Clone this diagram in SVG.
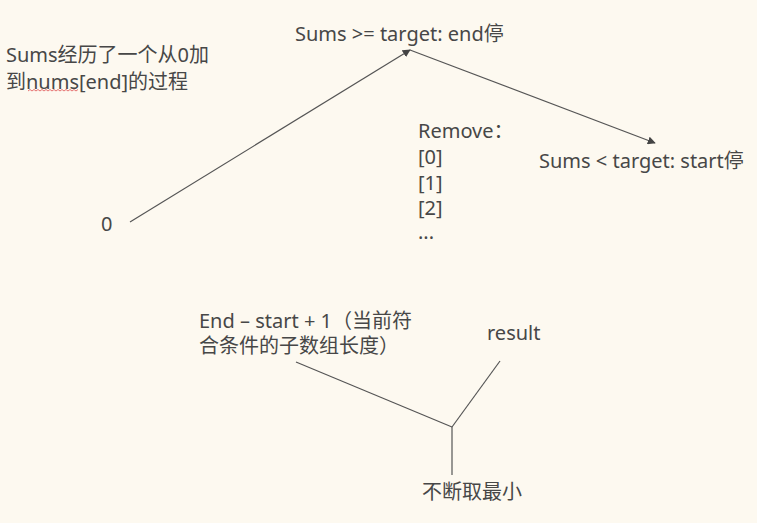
<svg xmlns="http://www.w3.org/2000/svg" width="757" height="523" viewBox="0 0 757 523">
<style>
text{font-family:"Noto Sans","Noto Sans CJK SC",sans-serif;font-size:20px;fill:#474747;}
.ln{stroke:#555;stroke-width:1.2;fill:none;}
</style>
<defs>
<marker id="ah" viewBox="0 0 10 10" refX="9" refY="5" markerWidth="8" markerHeight="8" orient="auto" markerUnits="userSpaceOnUse">
<path d="M0,0 L10,5 L0,10 z" fill="#444"/>
</marker>
</defs>
<rect width="757" height="523" fill="#fdf9f0"/>
<g id="connectors">
<line class="ln" x1="130" y1="222" x2="410" y2="50" marker-end="url(#ah)"/>
<line class="ln" x1="410" y1="50" x2="655" y2="143" marker-end="url(#ah)"/>
<line class="ln" x1="296" y1="362" x2="452" y2="427"/>
<line class="ln" x1="500" y1="361" x2="452" y2="427"/>
<line class="ln" x1="452" y1="427" x2="452" y2="475"/>
</g>
<g id="note">
<text x="6" y="62">Sums经历了一个从0加</text>
<text x="6" y="89">到nums[end]的过程</text>
<path d="M28,91 l2,-1.5 l2,1.5 l2,-1.5 l2,1.5 l2,-1.5 l2,1.5 l2,-1.5 l2,1.5 l2,-1.5 l2,1.5 l2,-1.5 l2,1.5 l2,-1.5 l2,1.5 l2,-1.5 l2,1.5 l2,-1.5 l2,1.5 l2,-1.5 l2,1.5 l2,-1.5 l2,1.5 l2,-1.5 l2,1.5 l2,-1.5" fill="none" stroke="#e05050" stroke-width="0.8"/>
</g>
<g id="top"><text x="295" y="41">Sums &gt;= target: end停</text></g>
<g id="remove">
<text x="418" y="138">Remove：</text>
<text x="418" y="164">[0]</text>
<text x="418" y="190">[1]</text>
<text x="418" y="215">[2]</text>
<text x="418" y="239">...</text>
</g>
<g id="right"><text x="539" y="168">Sums &lt; target: start停</text></g>
<g id="zero"><text x="101" y="231">0</text></g>
<g id="len">
<text x="199" y="328">End – start + 1（当前符</text>
<text x="199" y="353">合条件的子数组长度）</text>
</g>
<g id="result"><text x="487" y="340">result</text></g>
<g id="min"><text x="422" y="499">不断取最小</text></g>
</svg>
